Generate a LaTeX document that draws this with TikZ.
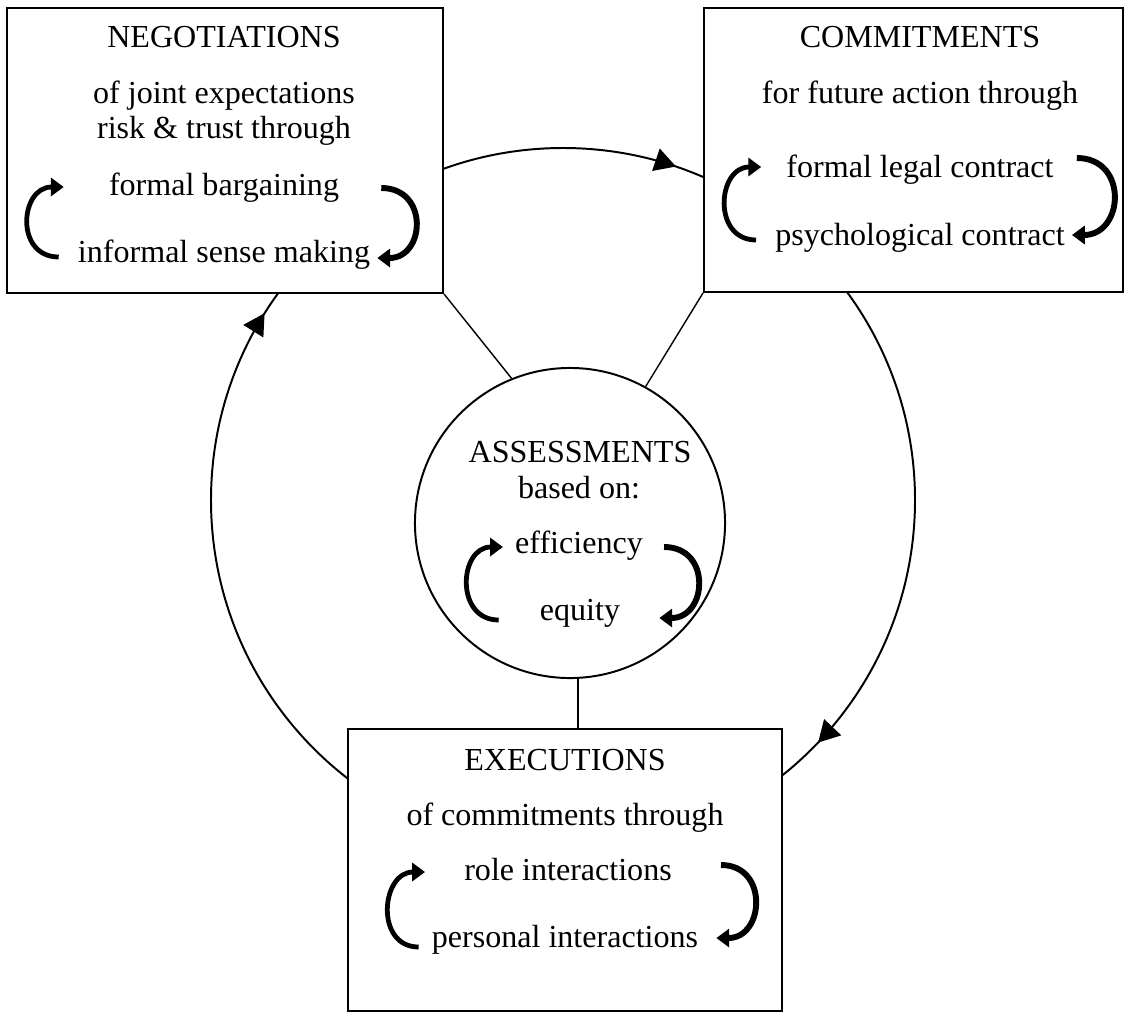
\documentclass[tikz,border=0pt]{standalone}
\usepackage{fontspec}
\setmainfont{Liberation Serif}
\usetikzlibrary{arrows.meta,calc,decorations.markings}
\tikzset{bigtip/.tip={Triangle[length=0.53cm,width=0.58cm]}}

\begin{document}
\begin{tikzpicture}[x=0.025cm,y=0.025cm,
	box/.style={draw,line width=1.4pt,fill=white,inner sep=0},
	txt/.style={inner sep=0,anchor=base,font=\fontsize{22.8}{25}\selectfont},
	swirl/.style={line width=3.4pt,-{Triangle[length=0.32cm,width=0.45cm]}},
	swirlr/.style={swirl,line width=4.2pt},
	link/.style={line width=1pt}]
		\useasboundingbox (0,0) rectangle (1128,-1013);
		% outer cycle
		\draw[line width=1.4pt,postaction={decorate},decoration={markings,
			mark=at position 0.052 with {\arrow{bigtip}},
			mark=at position 0.371 with {\arrow{bigtip}},
			mark=at position 0.839 with {\arrow{bigtip}}}]
			(563,-500) ++(90:352) arc[start angle=90,end angle=-270,radius=352];
		\node[box,minimum width=10.9cm,minimum height=7.125cm] (neg) at (225,-150.5) {};
		\node[box,minimum width=10.475cm,minimum height=7.1cm] (comm) at (913.5,-150) {};
		\node[box,minimum width=10.85cm,minimum height=7.05cm] (exe) at (565,-870) {};
		\node[box,circle,minimum size=7.75cm] (as) at (570,-523) {};
		\draw[link] (neg.south east) -- (as.112);
		\draw[link] (comm.south west) -- (as.61);
		\draw[link] (as.-87) -- (as.-87 |- exe.north);
		% negotiations
		\node[txt] (negtitle) at (224,-47) {NEGOTIATIONS};
		\node[txt] (negsuba) at (224,-103) {of joint expectations};
		\node[txt] (negsubb) at (224,-138) {risk \& trust through};
		\node[txt] (negup) at (224,-195) {formal bargaining};
		\node[txt] (negdown) at (224,-262) {informal sense making};
		\draw[swirl] ($(negdown.base west)+(-19,5)$) to[out=180,in=180,distance=1.1cm] ($(negup.base west)+(-45,8)$);
		\draw[swirlr] ($(negup.base east)+(42,7)$) to[out=0,in=0,distance=1.2cm] ($(negdown.base east)+(7,4)$);
		% commitments
		\node[txt] (commtitle) at (920,-47) {COMMITMENTS};
		\node[txt] (commsub) at (920,-103) {for future action through};
		\node[txt] (commup) at (920,-177) {formal legal contract};
		\node[txt] (commdown) at (920,-245) {psychological contract};
		\draw[swirl] ($(commdown.base west)+(-19,5)$) to[out=180,in=180,distance=1.1cm] ($(commup.base west)+(-25,10)$);
		\draw[swirlr] ($(commup.base east)+(23,19)$) to[out=0,in=0,distance=1.3cm] ($(commdown.base east)+(7,10)$);
		% executions
		\node[txt] (exetitle) at (565,-770) {EXECUTIONS};
		\node[txt] (exesub) at (565,-825) {of commitments through};
		\node[txt] (exeup) at (568,-880) {role interactions};
		\node[txt] (exedown) at (565,-947) {personal interactions};
		\draw[swirl] ($(exedown.base west)+(-13,0)$) to[out=180,in=180,distance=1.1cm] ($(exeup.base west)+(-39,8)$);
		\draw[swirlr] ($(exeup.base east)+(49,15)$) to[out=0,in=0,distance=1.2cm] ($(exedown.base east)+(18,9)$);
		% assessments
		\node[txt] (astitle) at (580,-462) {ASSESSMENTS};
		\node[txt] (assub) at (579,-498) {based on:};
		\node[txt] (asup) at (579,-553) {efficiency};
		\node[txt] (asdown) at (580,-620) {equity};
		\draw[swirl] ($(asdown.base west)+(-41,0)$) to[out=180,in=180,distance=1.1cm] ($(asup.base west)+(-12,6)$);
		\draw[swirlr] ($(asup.base east)+(21,6)$) to[out=0,in=0,distance=1.2cm] ($(asdown.base east)+(39,2)$);
\end{tikzpicture}
\end{document}
